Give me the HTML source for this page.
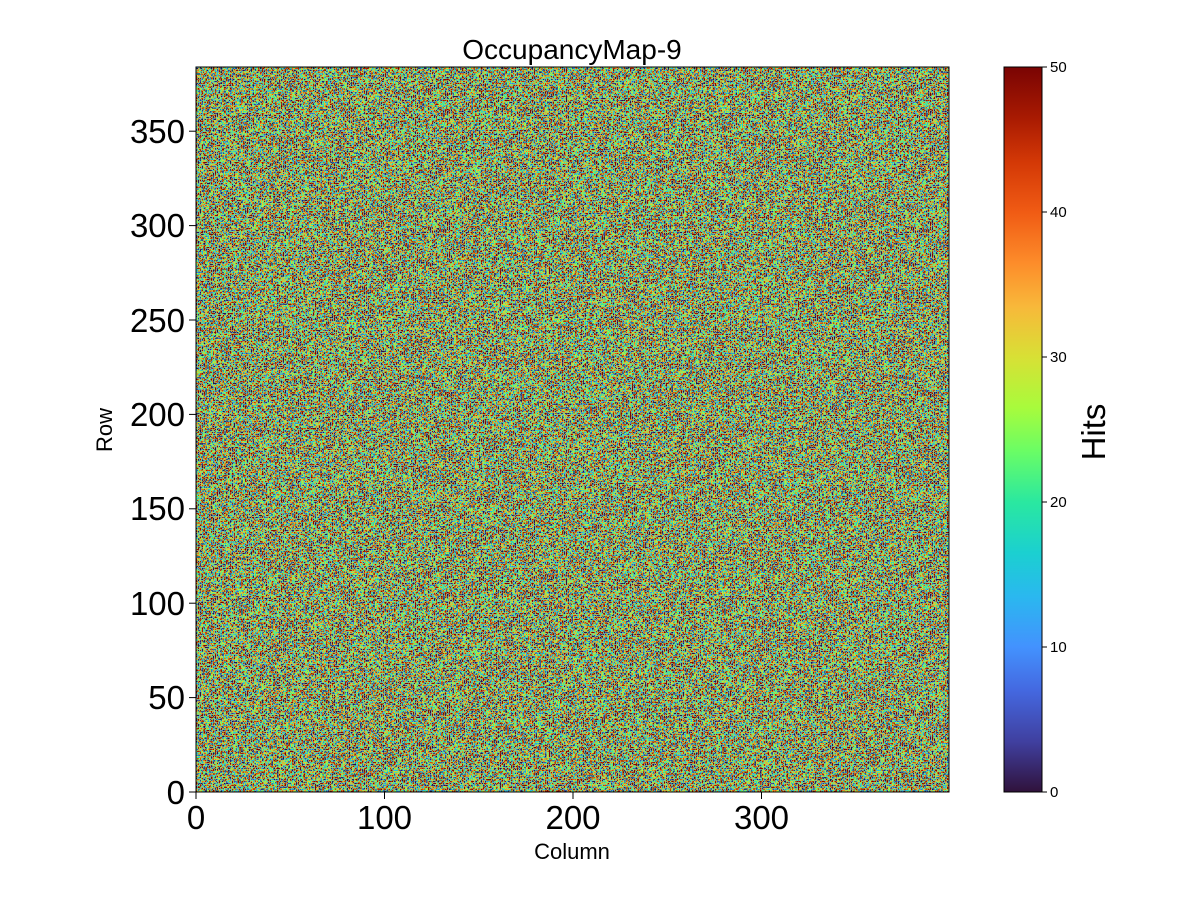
<!DOCTYPE html>
<html><head><meta charset="utf-8"><style>
html,body{margin:0;padding:0;background:#fff;}
svg text{font-family:"Liberation Sans","DejaVu Sans",sans-serif;fill:#000;}
</style></head><body>
<svg width="1200" height="900" xmlns="http://www.w3.org/2000/svg">
<defs>
<filter id="nz" x="0" y="0" width="100%" height="100%" color-interpolation-filters="sRGB">
<feTurbulence type="fractalNoise" baseFrequency="0.53" numOctaves="1" seed="9" result="t"/>
<feColorMatrix type="matrix" values="3 0 0 0 -1  3 0 0 0 -1  3 0 0 0 -1  0 0 0 0 1"/>
<feComponentTransfer>
<feFuncR type="table" tableValues="0.19 0.25 0.27 0.26 0.16 0.11 0.16 0.42 0.66 0.85 0.97 0.99 0.94 0.83 0.66 0.48"/>
<feFuncG type="table" tableValues="0.07 0.25 0.41 0.57 0.72 0.82 0.91 0.99 0.98 0.88 0.72 0.55 0.36 0.22 0.10 0.02"/>
<feFuncB type="table" tableValues="0.23 0.63 0.88 1.00 0.94 0.82 0.63 0.40 0.24 0.21 0.23 0.16 0.08 0.02 0.01 0.01"/>
</feComponentTransfer>
</filter>
<linearGradient id="turbo" x1="0" y1="1" x2="0" y2="0">
<stop offset="0" stop-color="#30123b"/>
<stop offset="0.07" stop-color="#4040a0"/>
<stop offset="0.14" stop-color="#4468e0"/>
<stop offset="0.2" stop-color="#4392fe"/>
<stop offset="0.27" stop-color="#2ab8ef"/>
<stop offset="0.33" stop-color="#1bd0d0"/>
<stop offset="0.4" stop-color="#2ae8a0"/>
<stop offset="0.47" stop-color="#6afd65"/>
<stop offset="0.53" stop-color="#a8fb3c"/>
<stop offset="0.6" stop-color="#d8e035"/>
<stop offset="0.67" stop-color="#f8b83a"/>
<stop offset="0.73" stop-color="#fd8c2a"/>
<stop offset="0.8" stop-color="#f05b14"/>
<stop offset="0.87" stop-color="#d33806"/>
<stop offset="0.93" stop-color="#a81a02"/>
<stop offset="1" stop-color="#7a0403"/>
</linearGradient>
</defs>
<text x="572" y="59" font-size="28" text-anchor="middle">OccupancyMap-9</text>
<rect x="196" y="67" width="753" height="725" fill="#a8c060"/>
<rect x="196" y="67" width="753" height="725" filter="url(#nz)"/>
<rect x="196" y="67" width="753" height="725" fill="none" stroke="#000" stroke-width="1"/>
<g stroke="#000" stroke-width="1">
<line x1="196" y1="792" x2="196" y2="799"/><line x1="384.5" y1="792" x2="384.5" y2="799"/>
<line x1="573" y1="792" x2="573" y2="799"/><line x1="761.5" y1="792" x2="761.5" y2="799"/>
<line x1="196" y1="792" x2="189" y2="792"/><line x1="196" y1="697.6" x2="189" y2="697.6"/>
<line x1="196" y1="603.2" x2="189" y2="603.2"/><line x1="196" y1="508.8" x2="189" y2="508.8"/>
<line x1="196" y1="414.4" x2="189" y2="414.4"/><line x1="196" y1="320" x2="189" y2="320"/>
<line x1="196" y1="225.6" x2="189" y2="225.6"/><line x1="196" y1="131.2" x2="189" y2="131.2"/>
</g>
<g font-size="33" text-anchor="middle">
<text x="196" y="829">0</text><text x="384.5" y="829">100</text>
<text x="573" y="829">200</text><text x="761.5" y="829">300</text>
</g>
<g font-size="33" text-anchor="end">
<text x="185" y="804">0</text><text x="185" y="709">50</text><text x="185" y="615">100</text>
<text x="185" y="520">150</text><text x="185" y="426">200</text><text x="185" y="332">250</text>
<text x="185" y="237">300</text><text x="185" y="143">350</text>
</g>
<text x="572" y="859" font-size="22" text-anchor="middle">Column</text>
<text transform="translate(112,430) rotate(-90)" font-size="22" text-anchor="middle">Row</text>
<rect x="1004" y="67" width="38" height="725" fill="url(#turbo)" stroke="#000" stroke-width="1"/>
<g stroke="#000" stroke-width="1">
<line x1="1042" y1="792" x2="1047" y2="792"/><line x1="1042" y1="647" x2="1047" y2="647"/>
<line x1="1042" y1="502" x2="1047" y2="502"/><line x1="1042" y1="357" x2="1047" y2="357"/>
<line x1="1042" y1="212" x2="1047" y2="212"/><line x1="1042" y1="67" x2="1047" y2="67"/>
</g>
<g font-size="15">
<text x="1050" y="797">0</text><text x="1050" y="652">10</text><text x="1050" y="507">20</text>
<text x="1050" y="362">30</text><text x="1050" y="217">40</text><text x="1050" y="72">50</text>
</g>
<text transform="translate(1105,432) rotate(-90)" font-size="33" text-anchor="middle">Hits</text>
</svg>
</body></html>
